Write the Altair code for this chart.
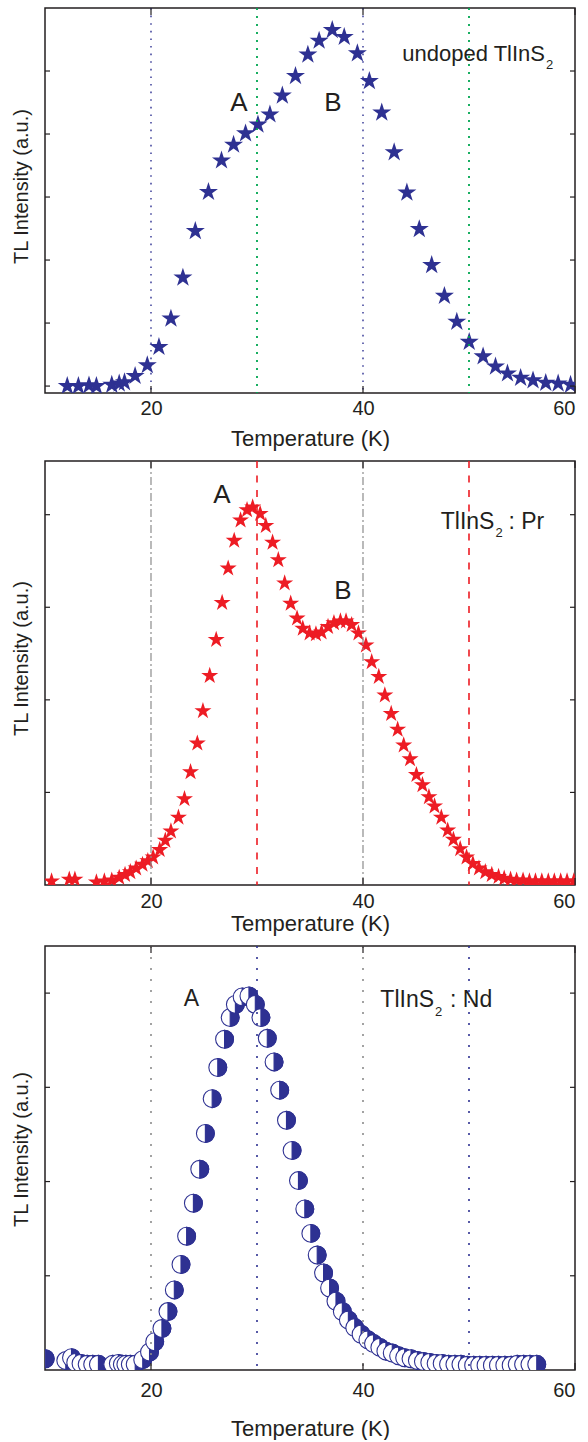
import altair as alt
import pandas as pd

# ---------------- data ----------------
# Panel 1: undoped TlInS2
t1 = [12.1, 13.15, 14.15, 14.85, 16.3, 17.0, 17.5, 18.5, 19.65, 20.75, 21.88, 23.01, 24.18,
      25.42, 26.65, 27.79, 28.92, 30.09, 31.22, 32.39, 33.63, 34.80, 35.86, 37.10, 38.23,
      39.47, 40.60, 41.77, 42.94, 44.14, 45.31, 46.48, 47.68, 48.85, 50.02, 51.33, 52.50,
      53.63, 54.87, 56.04, 57.24, 58.41, 59.58]
i1 = [0.0, 0.0, 0.01, 0.0, 0.02, 0.04, 0.06, 0.16, 0.33, 0.62, 1.07, 1.72, 2.46,
      3.08, 3.58, 3.83, 4.01, 4.15, 4.31, 4.61, 4.92, 5.26, 5.48, 5.65, 5.54,
      5.28, 4.84, 4.34, 3.71, 3.07, 2.49, 1.92, 1.43, 1.02, 0.70, 0.47, 0.31,
      0.20, 0.13, 0.09, 0.05, 0.04, 0.02]

# Panel 2: TlInS2 : Pr
t2 = [10.62, 12.29, 12.82, 14.85, 15.6, 16.3, 17.0, 17.55, 18.05, 18.6, 19.2, 19.7, 20.2,
      20.82, 21.35, 21.88, 22.59, 23.16, 23.73, 24.37, 24.90, 25.54, 26.15, 26.71, 27.28,
      27.85, 28.45, 29.06, 29.59, 30.30, 30.83, 31.47, 32.01, 32.61, 33.18, 33.78, 34.32,
      34.96, 35.56, 36.09, 36.70, 37.26, 37.87, 38.40, 38.93, 39.57, 40.28, 40.82, 41.49,
      42.06, 42.66, 43.27, 43.84, 44.44, 45.04, 45.61, 46.22, 46.75, 47.39, 47.99, 48.53,
      49.17, 49.77, 50.37, 50.94, 51.54, 52.15, 52.79, 53.32, 53.92, 54.49, 55.10, 55.70,
      56.27, 56.87, 57.48, 58.05, 58.65, 59.25, 59.89]
i2 = [0.04, 0.06, 0.06, 0.03, 0.04, 0.05, 0.08, 0.11, 0.14, 0.18, 0.22, 0.26, 0.30,
      0.38, 0.48, 0.58, 0.73, 0.93, 1.22, 1.53, 1.88, 2.26, 2.65, 3.05, 3.42,
      3.72, 3.94, 4.05, 4.08, 4.01, 3.88, 3.70, 3.51, 3.26, 3.04, 2.88, 2.77,
      2.72, 2.71, 2.73, 2.79, 2.83, 2.85, 2.85, 2.81, 2.72, 2.59, 2.41, 2.25,
      2.05, 1.85, 1.68, 1.51, 1.36, 1.19, 1.08, 0.95, 0.85, 0.73, 0.59, 0.49,
      0.39, 0.30, 0.23, 0.18, 0.14, 0.11, 0.09, 0.07, 0.06, 0.05, 0.05, 0.04,
      0.04, 0.04, 0.04, 0.04, 0.04, 0.04, 0.04]

# Panel 3: TlInS2 : Nd
t3 = [10.02, 11.96, 12.5, 12.9, 13.4, 13.98, 14.5, 15.04, 16.39, 16.92, 17.3, 17.63, 18.05,
      18.51, 19.22, 19.86, 20.35, 21.03, 21.6, 22.2, 22.83, 23.36, 24.00, 24.60, 25.13,
      25.77, 26.30, 26.94, 27.47, 27.96, 28.60, 29.24, 29.84, 30.37, 30.97, 31.61, 32.14,
      32.78, 33.31, 33.91, 34.51, 35.08, 35.68, 36.28, 36.85, 37.45, 38.05, 38.62, 39.22,
      39.82, 40.46, 40.99, 41.59, 42.16, 42.76, 43.36, 43.93, 44.53, 45.13, 45.70, 46.30,
      46.90, 47.47, 48.07, 48.67, 49.24, 49.84, 50.44, 51.01, 51.61, 52.21, 52.78, 53.38,
      53.98, 54.55, 55.15, 55.75, 56.39]
i3 = [0.12, 0.10, 0.13, 0.08, 0.07, 0.06, 0.06, 0.06, 0.06, 0.07, 0.06, 0.06, 0.06,
      0.06, 0.11, 0.19, 0.30, 0.44, 0.62, 0.85, 1.12, 1.42, 1.77, 2.13, 2.51,
      2.88, 3.21, 3.51, 3.74, 3.88, 3.96, 3.97, 3.88, 3.74, 3.52, 3.27, 2.97,
      2.65, 2.33, 2.01, 1.71, 1.45, 1.22, 1.03, 0.87, 0.73, 0.62, 0.53, 0.45,
      0.38, 0.32, 0.28, 0.24, 0.20, 0.18, 0.15, 0.13, 0.12, 0.10, 0.09, 0.08,
      0.07, 0.07, 0.06, 0.06, 0.06, 0.05, 0.05, 0.05, 0.05, 0.05, 0.05, 0.05,
      0.05, 0.06, 0.06, 0.06, 0.06]

x_ticks = [20, 40, 60]
y_ticks1 = [0, 1, 2, 3, 4, 5]
y_ticks2 = [1, 2, 3, 4]
y_ticks3 = [1, 2, 3, 4]

# ---------------- styles ----------------
NAVY = "#2e3192"
RED = "#ed1c24"
GREEN = "#00a651"
GRAY = "#8c8c8c"
INK = "#231f20"
FONT = "Liberation Sans"
STAR = ("M0,-1L0.2245,-0.309L0.951,-0.309L0.363,0.118L0.588,0.809L0,0.382"
        "L-0.588,0.809L-0.363,0.118L-0.951,-0.309L-0.2245,-0.309Z")
HALF = "M0,-1A1,1,0,0,1,0,1Z"
W = 530
XDOM = [10, 60]


def panel(h, ydom, yticks, point_layer, vlines, texts, label_pad, title_pad, title_y):
    xsc = alt.Scale(domain=XDOM, nice=False, zero=False)
    ysc = alt.Scale(domain=ydom, nice=False, zero=False)
    xax = alt.Axis(values=x_ticks, format="d", title="Temperature (K)", ticks=False,
                   domain=False, grid=False, labelPadding=label_pad, titlePadding=title_pad)
    yax = alt.Axis(labels=False, ticks=False, domain=False, grid=False,
                   title="TL Intensity (a.u.)", titleX=-24, titleY=title_y,
                   titleBaseline="middle")

    def X(f="T:Q"):
        return alt.X(f, scale=xsc, axis=xax)

    def Y(f="I:Q"):
        return alt.Y(f, scale=ysc, axis=yax)

    layers = [point_layer.encode(x=X(), y=Y())]
    for pos, color, dash, sw in vlines:
        layers.append(
            alt.Chart(pd.DataFrame({"T": pos}))
            .mark_rule(color=color, strokeDash=dash, strokeWidth=sw)
            .encode(x=X())
        )
    xt = pd.DataFrame({"T": x_ticks})
    layers.append(alt.Chart(xt).mark_rule(color=INK, strokeWidth=1.2).encode(
        x=X(), y=alt.value(h), y2=alt.value(h - 7)))
    layers.append(alt.Chart(xt).mark_rule(color=INK, strokeWidth=1.2).encode(
        x=X(), y=alt.value(0), y2=alt.value(7)))
    yt = pd.DataFrame({"I": yticks})
    layers.append(alt.Chart(yt).mark_rule(color=INK, strokeWidth=1.2).encode(
        y=Y(), x=alt.value(0), x2=alt.value(5)))
    layers.append(alt.Chart(yt).mark_rule(color=INK, strokeWidth=1.2).encode(
        y=Y(), x=alt.value(W), x2=alt.value(W - 5)))

    for tx, ty, s, size, align, dx, dy in texts:
        layers.append(
            alt.Chart(pd.DataFrame({"T": [tx], "I": [ty], "s": [s]}))
            .mark_text(font=FONT, fontSize=size, color=INK, align=align,
                       baseline="alphabetic", dx=dx, dy=dy)
            .encode(x=X(), y=Y(), text="s:N")
        )
    return alt.layer(*layers).properties(width=W, height=h)


# Panel 1
p1_pts = alt.Chart(pd.DataFrame({"T": t1, "I": i1})).mark_point(
    shape=STAR, filled=True, size=400, color=NAVY, opacity=1, clip=True)
p1 = panel(
    385, [-0.11, 6.0], y_ticks1, p1_pts,
    [([20, 40], NAVY, [1.6, 6], 1.4), ([30, 50], GREEN, [2, 6], 1.8)],
    [(28.3, 4.37, "A", 26, "center", 0, 0),
     (37.17, 4.37, "B", 26, "center", 0, 0),
     (57.17, 5.16, "undoped TlInS", 22, "right", 0, 0),
     (57.17, 5.16, "2", 13, "left", 1, 8)],
    5, 10, 178)

# Panel 2
p2_pts = alt.Chart(pd.DataFrame({"T": t2, "I": i2})).mark_point(
    shape=STAR, filled=True, size=320, color=RED, opacity=1, clip=True)
p2 = panel(
    424, [0, 4.58], y_ticks2, p2_pts,
    [([20, 40], GRAY, [8, 3, 2, 3], 1.2), ([30, 50], RED, [7, 7.5], 1.6)],
    [(26.7, 4.13, "A", 26, "center", 0, 0),
     (38.11, 3.09, "B", 26, "center", 0, 0),
     (52.4, 3.85, "TlInS", 23, "right", 0, 0),
     (52.4, 3.85, "2", 13, "left", 1, 8),
     (52.4, 3.85, ": Pr", 23, "left", 14, 0)],
    6, 2, 197)

# Panel 3
rows = []
for k, (tv, iv) in enumerate(zip(t3, i3)):
    rows.append({"T": tv, "I": iv, "kind": "full", "ord": 2 * k})
    rows.append({"T": tv, "I": iv, "kind": "half", "ord": 2 * k + 1})
df3 = pd.DataFrame(rows)
p3_pts = alt.Chart(df3).mark_point(
    filled=True, size=320, stroke=NAVY, strokeWidth=1.1, opacity=1, clip=True
).encode(
    shape=alt.Shape("kind:N", scale=alt.Scale(domain=["full", "half"], range=["circle", HALF]), legend=None),
    fill=alt.Fill("kind:N", scale=alt.Scale(domain=["full", "half"], range=["white", NAVY]), legend=None),
    order=alt.Order("ord:Q"),
)
p3 = panel(
    424, [0, 4.5], y_ticks3, p3_pts,
    [([20, 40], GRAY, [2, 9], 1.6), ([30, 50], NAVY, [2, 9], 1.6)],
    [(23.82, 3.86, "A", 23, "center", 0, 0),
     (46.7, 3.85, "TlInS", 23, "right", 0, 0),
     (46.7, 3.85, "2", 13, "left", 1, 9),
     (46.7, 3.85, ": Nd", 23, "left", 16, 0)],
    10, 18, 203)

chart = alt.vconcat(p1, p2, p3, spacing=9).properties(
    padding={"left": 10, "top": 6, "right": 5, "bottom": 0}
).configure_view(stroke=INK, strokeWidth=1.5).configure_axis(
    labelFont=FONT, titleFont=FONT, labelFontSize=20, titleFontSize=22,
    labelColor=INK, titleColor=INK, titleFontWeight="normal"
).configure_axisY(titleFontSize=20)

chart.save("out.html", embed_options={"renderer": "svg", "actions": False})
